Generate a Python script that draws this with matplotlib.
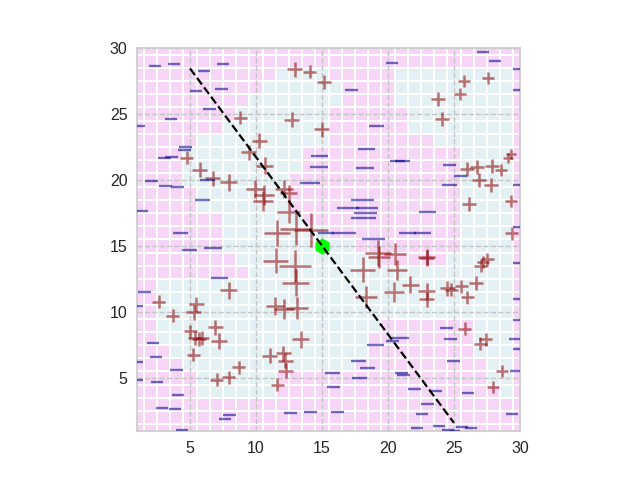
import matplotlib
matplotlib.use("Agg")
import matplotlib.pyplot as plt
import numpy as np
from matplotlib.colors import ListedColormap

plt.rcParams['font.family'] = ['Liberation Sans', 'DejaVu Sans']

# background cell classes, row y=30 first, columns x=1..30 (P = pink, B = blue)
def _row(blue_ranges):
    s = ['P'] * 30
    for a, b in blue_ranges:
        for k in range(a, b + 1):
            s[k - 1] = 'B'
    return ''.join(s)

grid_rows = [
    _row([]),                       # 30
    _row([]),                       # 29
    _row([(12, 15), (21, 29)]),     # 28
    _row([(11, 16), (21, 29)]),     # 27
    _row([(10, 16), (21, 29)]),     # 26
    _row([(9, 15), (22, 29)]),      # 25
    _row([(8, 15), (22, 29)]),      # 24
    _row([(6, 15), (24, 29)]),      # 23
    _row([(5, 13), (26, 29)]),      # 22
    _row([(5, 13), (26, 29)]),      # 21
    _row([(5, 12), (26, 29)]),      # 20
    _row([(6, 12), (26, 29)]),      # 19
    _row([(6, 12), (26, 29)]),      # 18
    _row([(8, 13), (26, 29)]),      # 17
    _row([(8, 15), (26, 29)]),      # 16
    _row([(8, 17), (26, 29)]),      # 15
    _row([(9, 19), (25, 29)]),      # 14
    _row([(10, 29)]),               # 13
    _row([(3, 29)]),                # 12
    _row([(3, 29)]),                # 11
    _row([(3, 29)]),                # 10
    _row([(3, 19), (27, 29)]),      # 9
    _row([(3, 18), (27, 29)]),      # 8
    _row([(4, 18), (27, 29)]),      # 7
    _row([(5, 17), (28, 29)]),      # 6
    _row([(6, 11), (28, 29)]),      # 5
    _row([(6, 11), (29, 29)]),      # 4
    _row([]),                       # 3
    _row([]),                       # 2
    _row([]),                       # 1
]

plus_x = [12.95, 14.07, 15.15, 8.8, 12.7, 15.0, 10.23, 9.47, 4.75, 10.66, 5.73, 6.74, 7.95, 9.9,
          12.1, 12.5, 10.6, 10.56, 12.5, 13.0, 14.2, 11.6,
          25.76, 27.6, 23.79, 25.45, 24.07, 29.3, 29.1, 25.96, 26.72, 27.85, 28.53, 26.9, 27.78,
          26.14, 29.3, 29.37,
          11.49, 12.95, 13.0, 7.95, 2.65, 5.46, 5.3, 3.71, 11.44, 12.12, 13.13, 6.9, 5.0, 5.4, 5.65,
          5.9, 7.2, 13.38, 5.23, 11.04, 12.05, 12.2, 12.25, 8.71, 7.95, 7.02, 11.62,
          19.27, 19.3, 20.5, 22.93, 22.95, 18.1, 20.66, 21.67, 18.31, 20.46, 22.93, 22.93, 24.49,
          24.8, 25.56, 26.0, 26.67, 27.02, 27.53, 27.2, 25.83, 27.0, 27.42, 28.61, 27.98]
plus_y = [28.4, 28.2, 27.4, 24.7, 24.55, 23.85, 22.98, 22.1, 21.67, 21.08, 20.78, 20.15, 19.82, 19.3,
          19.3, 19.0, 18.85, 18.4, 17.6, 16.3, 16.2, 16.0,
          27.5, 27.7, 26.14, 26.5, 24.6, 22.0, 21.7, 20.84, 21.0, 21.08, 20.75, 20.0, 19.6,
          18.2, 18.4, 15.98,
          13.9, 13.5, 12.2, 11.66, 10.78, 10.6, 10.0, 9.72, 10.48, 10.22, 10.3, 8.84, 8.53, 8.05, 7.95,
          8.0, 7.78, 7.95, 6.77, 6.69, 6.89, 6.31, 5.55, 5.81, 5.05, 4.85, 4.47,
          14.5, 14.15, 14.4, 14.14, 14.1, 13.2, 13.18, 12.05, 11.16, 11.54, 11.57, 10.98, 11.8,
          11.7, 11.94, 11.1, 12.17, 13.5, 14.0, 13.8, 8.72, 7.6, 7.95, 5.55, 4.3]
plus_size = [15, 13, 14, 13, 15, 15, 15, 15, 13, 17, 15, 15, 17, 18,
             18, 17, 20, 20, 23, 32, 34, 26,
             12, 12, 14, 12, 14, 10, 10, 14, 14, 14, 12, 14, 14,
             14, 12, 13,
             25, 32, 27, 17, 13, 15, 15, 13, 18, 20, 22, 15, 13, 14, 14,
             14, 16, 17, 13, 15, 15, 15, 15, 13, 13, 13, 13,
             26, 22, 22, 17, 15, 25, 20, 17, 22, 20, 17, 15, 15,
             13, 13, 13, 14, 13, 13, 12, 13, 13, 13, 12, 12]

minus_x = [2.35, 3.79, 7.5, 6.06, 5.43, 7.42, 6.5, 3.56, 1.15, 4.67, 4.6, 3.03, 3.6, 2.12, 3.18,
           4.07, 6.3, 5.98, 1.39, 4.3, 14.82, 14.77, 14.06, 15.3,
           27.22, 28.1, 20.3, 30.0, 17.27, 30.0, 19.14, 18.35, 20.75, 21.1, 18.26, 24.7, 25.46,
           24.7, 30.0, 18.04, 16.96, 18.42, 18.33, 18.18, 23.0, 16.64, 21.47, 22.6, 18.94, 30.0,
           4.93, 6.75, 7.2, 1.52, 1.0, 2.2, 2.4, 1.0, 3.99, 1.0, 2.5, 4.09, 2.88, 3.86, 7.96, 7.63,
           4.42, 12.63, 14.14, 15.8, 15.9,
           30.0, 30.0, 30.0, 24.45, 24.75, 20.96, 20.33, 19.07, 29.6, 30.0, 17.73, 18.43, 24.93,
           17.88, 21.04, 21.2, 29.67, 22.0, 23.61, 26.06, 23.0, 22.55, 16.21, 29.42, 22.22, 23.87,
           24.55, 25.6, 26.28, 25.1]
minus_y = [28.63, 28.79, 28.79, 28.28, 26.76, 26.9, 25.4, 24.64, 24.1, 22.47, 22.3, 21.7, 21.76, 19.9,
           19.55, 19.47, 20.0, 18.5, 17.68, 16.0, 21.85, 21.0, 19.8, 16.0,
           29.73, 29.03, 28.9, 28.43, 26.83, 26.8, 24.1, 22.33, 21.45, 21.45, 20.9, 21.1, 20.3,
           19.6, 19.6, 18.46, 17.9, 17.9, 17.5, 17.15, 17.6, 16.0, 16.0, 16.0, 15.55, 16.45,
           14.68, 14.87, 12.55, 11.54, 10.48, 7.67, 6.61, 6.24, 5.63, 4.87, 4.72, 3.73, 2.74, 2.67,
           2.2, 1.86, 1.07, 2.37, 2.45, 5.4, 4.31,
           13.74, 10.98, 9.4, 8.79, 7.96, 8.03, 7.78, 7.53, 7.96, 7.2, 6.29, 5.76, 6.29,
           5.0, 5.4, 5.26, 5.55, 4.19, 4.04, 3.89, 3.03, 2.27, 2.45, 2.27, 1.19, 1.39,
           1.09, 1.31, 1.19, 1.0]
minus_size = [12, 12, 12, 12, 12, 13, 13, 12, 12, 13, 13, 13, 13, 13, 13,
              13, 15, 15, 12, 15, 17, 18, 20, 16,
              12, 12, 12, 14, 13, 14, 15, 17, 15, 15, 18, 13, 13,
              15, 14, 23, 22, 22, 23, 25, 17, 24, 17, 17, 23, 14,
              15, 18, 17, 13, 11, 12, 12, 11, 13, 11, 12, 12, 12, 12, 13, 12,
              12, 13, 13, 15, 13,
              14, 14, 14, 13, 13, 17, 13, 17, 12, 14, 15, 15, 13,
              15, 13, 13, 11, 13, 13, 12, 13, 12, 13, 12, 12, 12,
              12, 12, 12, 10]

center_x = [15.0]
center_y = [15.0]
line_x = [5.0, 25.0]
line_y = [28.45, 1.6]
ticks = [5, 10, 15, 20, 25, 30]

fig = plt.figure(figsize=(6.4, 4.8), dpi=100)
ax = fig.add_axes([0.2144, 0.1025, 0.598, 0.7975])

Z = np.array([[1 if c == 'B' else 0 for c in row] for row in grid_rows[::-1]])
edges = np.arange(0.5, 31.0, 1.0)
ax.pcolormesh(edges, edges, Z, cmap=ListedColormap(['#f6d5f6', '#e3f1f4']),
              edgecolors='white', linewidth=1.2, zorder=1)

px2pt = 0.72
ax.scatter(plus_x, plus_y, s=(np.array(plus_size) * px2pt) ** 2, marker='+',
           c='#8b0000', alpha=0.55, linewidths=1.8, zorder=3)
ax.scatter(minus_x, minus_y, s=(np.array(minus_size) * px2pt) ** 2, marker='_',
           c='#00008b', alpha=0.56, linewidths=1.7, zorder=3)
ax.plot(center_x, center_y, ls='none', marker='h', ms=10.5, color='#00ff00',
        markeredgecolor='#00ff00', zorder=4)
ax.plot(line_x, line_y, ls='--', color='black', lw=1.6, zorder=5)

ax.set_xlim(1, 30)
ax.set_ylim(1, 30)
ax.set_xticks(ticks)
ax.set_yticks(ticks)
ax.set_axisbelow('line')
ax.grid(True, linestyle='--', color='#c4c4c4', linewidth=1)
ax.tick_params(length=0, pad=7, labelsize=11.5, labelcolor='#262626')
for sp in ax.spines.values():
    sp.set_color('#cccccc')
    sp.set_linewidth(1.25)

fig.savefig('out.png', dpi=100)
